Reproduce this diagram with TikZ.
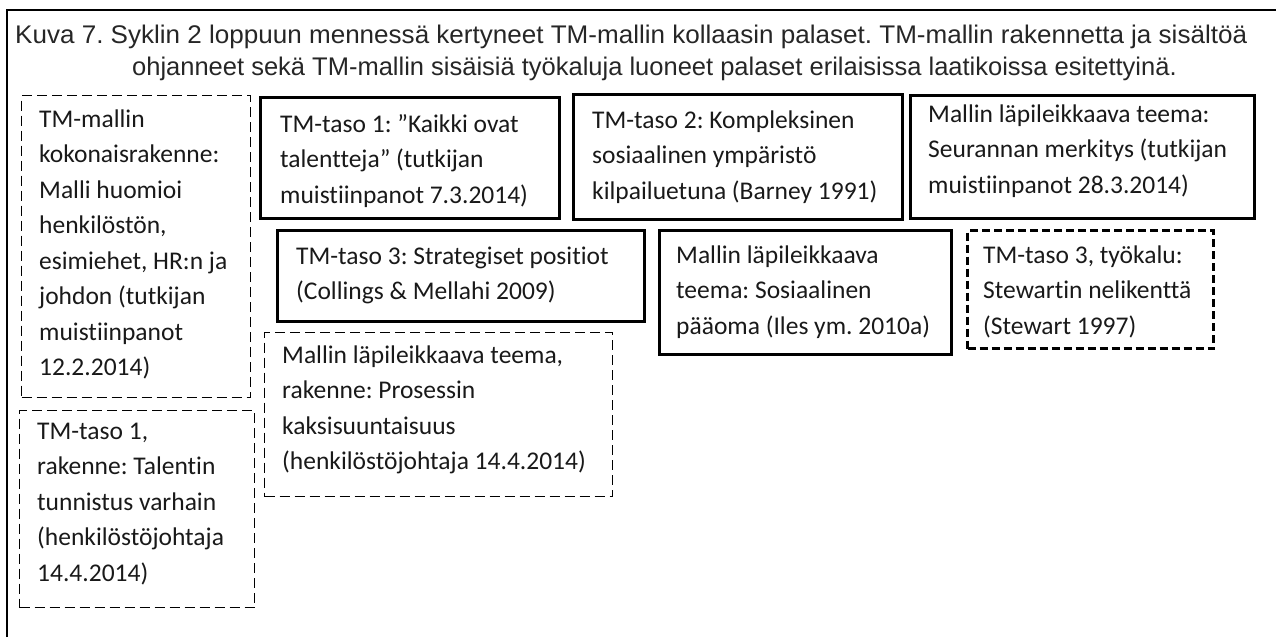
\documentclass[tikz,border=0pt]{standalone}
\usepackage{fontspec}
\setmainfont{Carlito}[Ligatures=NoCommon]
\newfontfamily\titlefont{Liberation Sans}
\frenchspacing
\newcommand\boxtext[1]{\parbox[t]{420pt}{\raggedright\frenchspacing\fontsize{25.5pt}{35.5pt}\selectfont #1}}
\tikzset{
  solidbox/.style={draw=black, line width=3pt, anchor=north west, inner sep=0pt},
  thindash/.style={draw=black, line width=1.4pt, dash pattern=on 10pt off 5pt, anchor=north west, inner sep=0pt},
  thickdash/.style={draw=black, line width=3pt, dash pattern=on 8pt off 4pt, anchor=north west, inner sep=0pt},
  txt/.style={anchor=base west, inner sep=0pt, text=black!90},
  ttl/.style={inner sep=0pt, font=\titlefont\fontsize{25.5pt}{25.5pt}\selectfont, text=black!85}
}
\begin{document}
\begin{tikzpicture}[x=1pt,y=-1pt]
\useasboundingbox (0,0) rectangle (1276,637);
% outer frame (only top and left visible)
\coordinate (fl) at (7,637);
\coordinate (ftl) at (7,10);
\coordinate (fr) at (1276,10);
\draw[line width=1.5pt] (fl) -- (ftl) -- (fr);
% title
\node[ttl, anchor=base west] (t1) at (15,43) {\resizebox{1232pt}{\height}{Kuva 7. Syklin 2 loppuun mennessä kertyneet TM-mallin kollaasin palaset. TM-mallin rakennetta ja sisältöä}};
\node[ttl, anchor=base east] (t2) at (1177,75) {ohjanneet sekä TM-mallin sisäisiä työkaluja luoneet palaset erilaisissa laatikoissa esitettyinä.};
% boxes
\node[thindash, minimum width=229pt, minimum height=302pt] (A) at (21,95) {};
\node[txt] (Atx) at (39,127) {\boxtext{TM-mallin\\kokonaisrakenne:\\Malli huomioi\\henkilöstön,\\esimiehet, HR:n ja\\johdon (tutkijan\\muistiinpanot\\12.2.2014)}};
\node[thindash, minimum width=235pt, minimum height=197pt] (B) at (19,410) {};
\node[txt] (Btx) at (37,439) {\boxtext{TM-taso 1,\\rakenne: Talentin\\tunnistus varhain\\(henkilöstöjohtaja\\14.4.2014)}};
\node[solidbox, minimum width=299pt, minimum height=121pt] (C) at (259,96) {};
\node[txt] (Ctx) at (280,132) {\boxtext{TM-taso 1: ”Kaikki ovat\\talentteja” (tutkijan\\muistiinpanot 7.3.2014)}};
\node[solidbox, minimum width=329pt, minimum height=125pt] (D) at (572,93) {};
\node[txt] (Dtx) at (592,128) {\boxtext{TM-taso 2: Kompleksinen\\sosiaalinen ympäristö\\kilpailuetuna (Barney 1991)}};
\node[solidbox, minimum width=344pt, minimum height=123pt] (E) at (909,94) {};
\node[txt] (Etx) at (928,122) {\boxtext{Mallin läpileikkaava teema:\\Seurannan merkitys (tutkijan\\muistiinpanot 28.3.2014)}};
\node[solidbox, minimum width=367pt, minimum height=91pt] (F) at (276,229) {};
\node[txt] (Ftx) at (296,264) {\boxtext{TM-taso 3: Strategiset positiot\\(Collings \& Mellahi 2009)}};
\node[thindash, minimum width=348pt, minimum height=164pt] (G) at (264,332) {};
\node[txt] (Gtx) at (282,363) {\boxtext{Mallin läpileikkaava teema,\\rakenne: Prosessin\\kaksisuuntaisuus\\(henkilöstöjohtaja 14.4.2014)}};
\node[solidbox, minimum width=292pt, minimum height=124pt] (H) at (658,229) {};
\node[txt] (Htx) at (676,263) {\boxtext{Mallin läpileikkaava\\teema: Sosiaalinen\\pääoma (Iles ym. 2010a)}};
\node[thickdash, minimum width=246pt, minimum height=118pt] (I) at (966,229) {};
\node[txt] (Itx) at (983,263) {\boxtext{TM-taso 3, työkalu:\\Stewartin nelikenttä\\(Stewart 1997)}};
\end{tikzpicture}
\end{document}
